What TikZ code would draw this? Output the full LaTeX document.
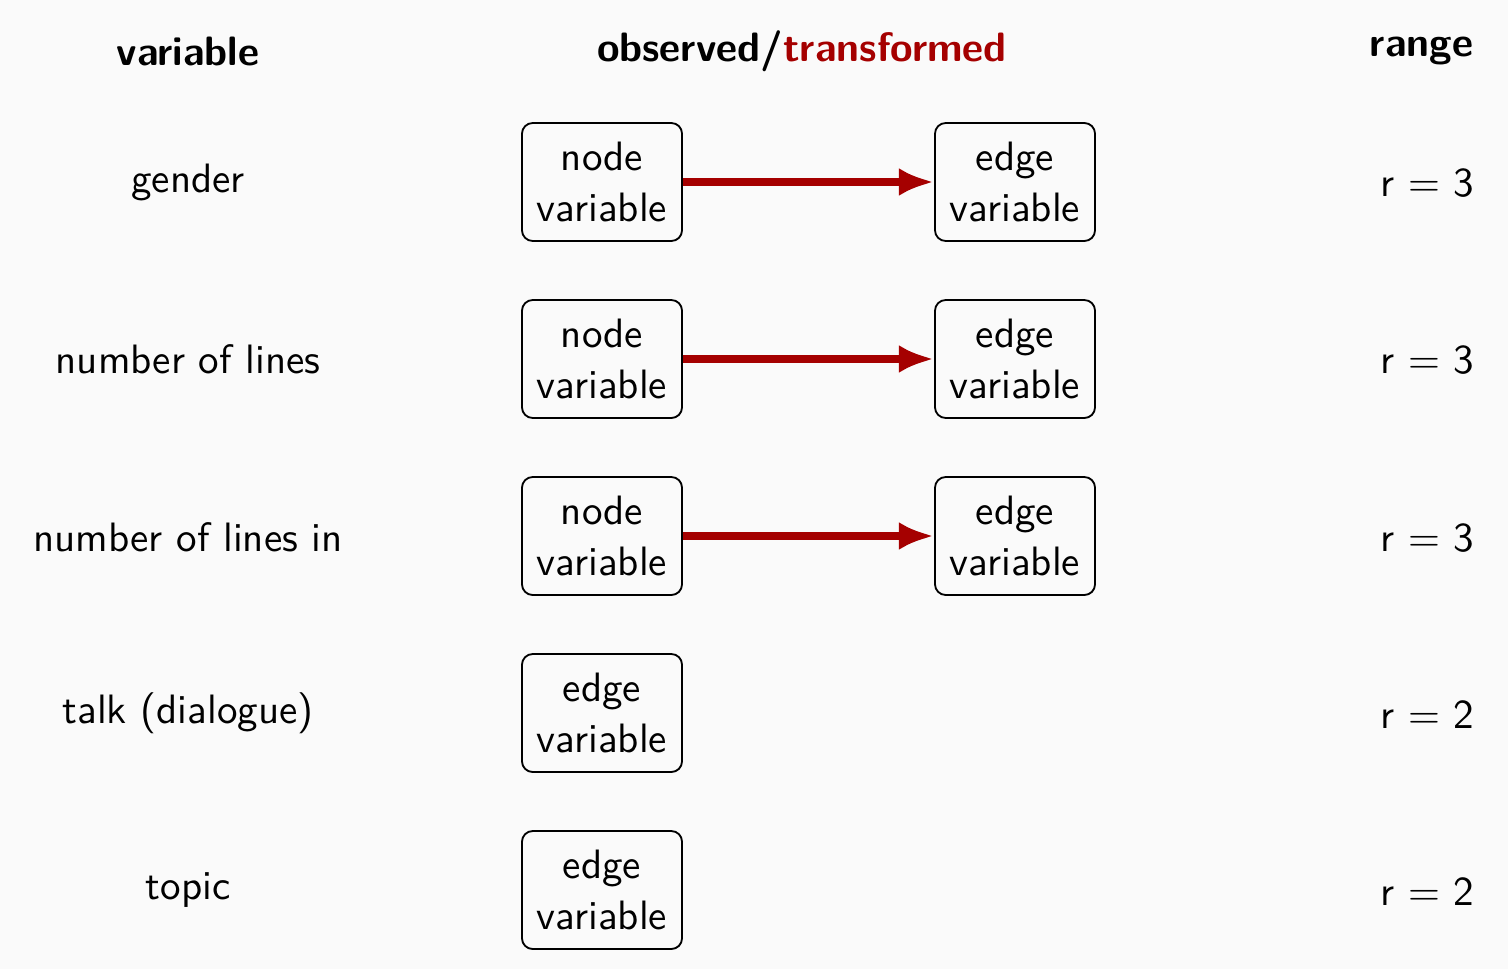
\documentclass[tikz,border=0pt]{standalone}
\usetikzlibrary{arrows.meta}
\definecolor{bgcol}{RGB}{250,250,250}
\definecolor{trred}{RGB}{165,0,0}
\renewcommand{\familydefault}{\sfdefault}
\tikzset{
  varbox/.style={draw=black, line width=0.45pt, rounded corners=2.6pt, align=center,
    minimum width=39.0pt, minimum height=28.75pt, inner sep=0pt,
    font=\fontsize{10}{12.5}\selectfont},
  rowlabel/.style={font=\fontsize{10}{12}\selectfont, anchor=center},
  rangelabel/.style={font=\fontsize{10}{12}\selectfont, anchor=east, inner sep=0pt},
  header/.style={font=\fontsize{10}{12}\selectfont\bfseries},
  transarrow/.style={draw=trred, line width=1.9pt, -{Latex[length=8.6pt,width=6.8pt]}}
}
\begin{document}
\begin{tikzpicture}[x=0.2437pt,y=-0.2437pt]
\fill[bgcol] (0,0) rectangle (1508,969);
% headers
\node[header] (hvar) at (188,51) {variable};
\node[header] (hobs) at (802,51) {observed/\textcolor{trred}{transformed}};
\node[header, anchor=east, inner sep=0pt] (hrange) at (1474,51) {range};
% rows
\node[rowlabel] (l1) at (188,182) {gender};
\node[rowlabel] (l2) at (188,359) {number of lines};
\node[rowlabel] (l3) at (188,537) {number of lines in};
\node[rowlabel] (l4) at (188,713) {talk (dialogue)};
\node[rowlabel] (l5) at (188,890) {topic};
\node[varbox] (a1) at (602,182) {node\\variable};
\node[varbox] (a2) at (602,359) {node\\variable};
\node[varbox] (a3) at (602,536) {node\\variable};
\node[varbox] (a4) at (602,713) {edge\\variable};
\node[varbox] (a5) at (602,890) {edge\\variable};
\node[varbox] (b1) at (1015,182) {edge\\variable};
\node[varbox] (b2) at (1015,359) {edge\\variable};
\node[varbox] (b3) at (1015,536) {edge\\variable};
\node[rangelabel] (r1) at (1475,183) {r $=$ 3};
\node[rangelabel] (r2) at (1475,360) {r $=$ 3};
\node[rangelabel] (r3) at (1475,538) {r $=$ 3};
\node[rangelabel] (r4) at (1475,715) {r $=$ 2};
\node[rangelabel] (r5) at (1475,892) {r $=$ 2};
\draw[transarrow] (a1) -- (b1);
\draw[transarrow] (a2) -- (b2);
\draw[transarrow] (a3) -- (b3);
\end{tikzpicture}
\end{document}
